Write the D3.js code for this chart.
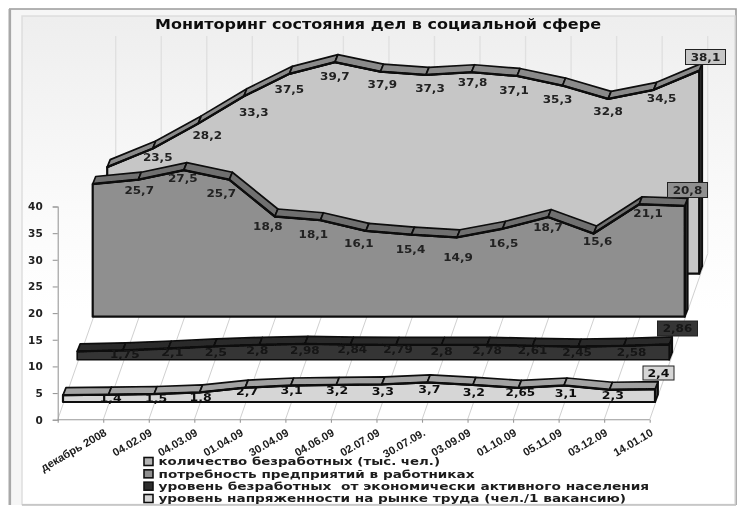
<!DOCTYPE html>
<html><head><meta charset="utf-8">
<script src="https://cdn.jsdelivr.net/npm/d3@7/dist/d3.min.js"></script>
<style>html,body{margin:0;padding:0;background:#fff}svg{display:block}text{font-family:"DejaVu Sans",sans-serif;white-space:pre}</style>
</head><body><svg id="c" width="741" height="508"></svg>
<script>
const title = "Мониторинг состояния дел в социальной сфере";
const categories = ["", "декабрь 2008","04.02.09","04.03.09","01.04.09","30.04.09","04.06.09","02.07.09","30.07.09.","03.09.09","01.10.09","05.11.09","03.12.09","14.01.10"];
const yTicks = [0,5,10,15,20,25,30,35,40];
const unemployed = [20,23.5,28.2,33.3,37.5,39.7,37.9,37.3,37.8,37.1,35.3,32.8,34.5,38.1];
const demand = [24.9,25.7,27.5,25.7,18.8,18.1,16.1,15.4,14.9,16.5,18.7,15.6,21.1,20.8];
const rate = [1.57,1.75,2.1,2.5,2.8,2.98,2.84,2.79,2.8,2.78,2.61,2.45,2.58,2.86];
const tension = [1.3,1.4,1.5,1.8,2.7,3.1,3.2,3.3,3.7,3.2,2.65,3.1,2.3,2.4];
const names = ["количество безработных (тыс. чел.)","потребность предприятий в работниках","уровень безработных  от экономически активного населения","уровень напряженности на рынке труда (чел./1 вакансию)"];

// layout: label nudges relative to each vertex, kept apart from the data
const nudgeS1=[[5,9],[9,12],[10,16],[0,15],[0,14],[2,13],[4,13],[1,10],[-3,14],[-5,14],[0,12],[8,8]];
const nudgeS2=[[1,11],[-1,8],[-8,14],[-7,10],[-7,14],[-7,12],[-1,15],[1,20],[1,14],[0,10],[4,8],[9,9]];
const nudgeS3=[[2,4],[4,4],[2,6],[-2,5],[0,6],[2,5],[2,4],[0,6],[0,5],[0,4],[-1,6],[8,6]];
const nudgeS4=[[2,3.5],[2,4],[1,5],[2,4],[1,5],[1,5],[1,6.5],[2,7],[1,7],[2,4],[2,7.5],[3.5,5]];
const legendWidths = [281.5,316,490.7,467.5];

const series = [
 {v:unemployed,ox:49.5,oy:146,front:"#c6c6c6",top:"#8a8a8a",side:"#3a3a3a",sw:"#b4b4b4",txt:"#222",nudge:nudgeS1,box:[705.5,57,40,15]},
 {v:demand,ox:35,oy:103,front:"#8f8f8f",top:"#6f6f6f",side:"#2e2e2e",sw:"#8f8f8f",txt:"#222",nudge:nudgeS2,box:[687.5,190,40,15]},
 {v:rate,ox:19.5,oy:60,front:"#363636",top:"#2b2b2b",side:"#1c1c1c",sw:"#2e2e2e",txt:"#151515",nudge:nudgeS3,box:[677.5,328.5,40,15]},
 {v:tension,ox:5.3,oy:17.7,front:"#d6d6d6",top:"#a2a2a2",side:"#444",sw:"#d6d6d6",txt:"#111",nudge:nudgeS4,box:[658.5,373,31,14]}
];

const svg = d3.select("#c");
const defs = svg.append("defs");
const g1 = defs.append("linearGradient").attr("id","bg").attr("x1",0).attr("x2",0).attr("y1",0).attr("y2",1);
g1.append("stop").attr("offset","0").attr("stop-color","#eeeeee");
g1.append("stop").attr("offset","0.42").attr("stop-color","#fbfbfb");
g1.append("stop").attr("offset","0.6").attr("stop-color","#ffffff");
defs.append("filter").attr("id","soft").append("feGaussianBlur").attr("stdDeviation",0.45);

const root = svg.append("g").attr("filter","url(#soft)");
// frame
root.append("rect").attr("x",9.5).attr("y",9).attr("width",726).attr("height",496).attr("fill","#f6f6f6").attr("stroke","none");
root.append("path").attr("d","M9.8,505V9H736V505").attr("fill","none").attr("stroke","#9a9a9a").attr("stroke-width",1.6);
root.append("path").attr("d","M9.8,9V505").attr("fill","none").attr("stroke","#a8a8a8").attr("stroke-width",2.6);
root.append("rect").attr("x",22).attr("y",16).attr("width",713).attr("height",488.5).attr("fill","url(#bg)").attr("stroke","#dcdcdc").attr("stroke-width",1.4);
root.append("path").attr("d","M22,505H736").attr("stroke","#c0c0c0").attr("stroke-width",1.5);

// scales
const x = d3.scalePoint().domain(d3.range(categories.length)).range([57.7,649.7]);
const y = d3.scaleLinear().domain([0,40]).range([419.7,206.5]);
const backX = 58, backY = 166;
const wallTop = 36;
// wall + floor lines
const grid = root.append("g").attr("fill","none");
categories.forEach((c,i)=>{
  grid.append("line").attr("x1",x(i)).attr("y1",y(0)).attr("x2",x(i)+backX).attr("y2",y(0)-backY).attr("stroke","#d0d0d0").attr("stroke-width",1);
  grid.append("line").attr("x1",x(i)+backX).attr("y1",y(0)-backY).attr("x2",x(i)+backX).attr("y2",wallTop).attr("stroke","#e0e0e0").attr("stroke-width",1.4);
});

// axes
const yAxis = root.append("g").attr("transform",`translate(${x(0)},0)`).call(d3.axisLeft(y).tickValues(yTicks).tickSize(5).tickPadding(10).tickFormat(d3.format("d")));
yAxis.selectAll("path,line").attr("stroke","#999").attr("stroke-width",1.1);
yAxis.selectAll("text").attr("font-size",10.5).attr("font-weight","bold").attr("fill","#222");
const xAxis = root.append("g").attr("transform",`translate(0,${y(0)})`).call(d3.axisBottom(x).tickSize(3).tickFormat(()=>""));
xAxis.selectAll("path,line").attr("stroke","#999").attr("stroke-width",1.1);
xAxis.select("path").attr("d",`M${x(0)},0H${x(13)}`);
xAxis.selectAll("g.tick").each(function(d){
  if(!categories[d]) return;
  d3.select(this).append("text").text(categories[d])
   .attr("transform","translate(3.7,15.3) rotate(-30)").attr("text-anchor","end")
   .attr("font-size",11.2).attr("font-weight","bold").attr("fill","#1a1a1a")
   .style("font-family",'"Liberation Sans",sans-serif');
});

// ribbons
const depthX = 3, depthY = 7.5;
series.forEach((s,si)=>{
  const px = i=>x(i)+s.ox, py = v=>y(v)-s.oy, base = y(0)-s.oy;
  const g = root.append("g").attr("stroke","#0c0c0c").attr("stroke-linejoin","round");
  const side = d3.line();
  const n = s.v.length-1;
  // right side face
  g.append("path").attr("d",side([[px(n),py(s.v[n])],[px(n)+depthX,py(s.v[n])-depthY],[px(n)+depthX,base-depthY],[px(n),base]])+"Z").attr("fill",s.side).attr("stroke-width",1.8);
  // front face
  const area = d3.area().x((d,i)=>px(i)).y0(base).y1(d=>py(d));
  g.append("path").datum(s.v).attr("d",area).attr("fill",s.front).attr("stroke-width",si===2?1.6:2.2);
  // top band
  d3.pairs(s.v).forEach(([a,b],i)=>{
    g.append("path").attr("d",side([[px(i),py(a)],[px(i+1),py(b)],[px(i+1)+depthX,py(b)-depthY],[px(i)+depthX,py(a)-depthY]])+"Z").attr("fill",s.top).attr("stroke-width",1.7);
  });
  // emphasise top front edge
  g.append("path").datum(s.v).attr("fill","none").attr("stroke-width",2.3).attr("d",d3.line().x((d,i)=>px(i)).y(d=>py(d)));
});

// labels on top
const fmt = v=>String(v).replace(".",",");
series.forEach((s,si)=>{
  const px = i=>x(i)+s.ox, py = v=>y(v)-s.oy;
  s.nudge.forEach((nd,k)=>{
    const i=k+1;
    root.append("text").text(fmt(s.v[i])).attr("x",px(i)+nd[0]).attr("y",py(s.v[i])+nd[1]).attr("dy","0.36em")
      .attr("text-anchor","middle").attr("font-size",10.5).attr("font-weight","bold").attr("fill",s.txt)
      .attr("textLength",fmt(s.v[i]).length*7.4).attr("lengthAdjust","spacingAndGlyphs");
  });
  const b=s.box, last=s.v[s.v.length-1], lab=fmt(last);
  root.append("rect").attr("x",b[0]-b[2]/2).attr("y",b[1]-b[3]/2).attr("width",b[2]).attr("height",b[3]).attr("fill",s.front).attr("stroke","#222").attr("stroke-width",1);
  root.append("text").text(lab).attr("x",b[0]).attr("y",b[1]).attr("dy","0.36em").attr("text-anchor","middle")
    .attr("font-size",10.5).attr("font-weight","bold").attr("fill",s.txt)
    .attr("textLength",lab.length*7.4).attr("lengthAdjust","spacingAndGlyphs");
});

// title
root.append("text").text(title).attr("x",378).attr("y",28.5).attr("text-anchor","middle")
  .attr("font-size",13.5).attr("font-weight","bold").attr("fill","#111").attr("textLength",446).attr("lengthAdjust","spacingAndGlyphs");

// legend
const legY = d3.scalePoint().domain(d3.range(4)).range([461.5,498.5]);
names.forEach((t,i)=>{
  root.append("rect").attr("x",144).attr("y",legY(i)-4).attr("width",9).attr("height",8).attr("fill",series[i].sw).attr("stroke","#111").attr("stroke-width",1.6);
  root.append("text").text(t).attr("x",158.5).attr("y",legY(i)).attr("dy","0.36em")
    .attr("font-size",10.4).attr("font-weight","bold").attr("fill","#1a1a1a")
    .attr("textLength",legendWidths[i]).attr("lengthAdjust","spacingAndGlyphs");
});
</script></body></html>
